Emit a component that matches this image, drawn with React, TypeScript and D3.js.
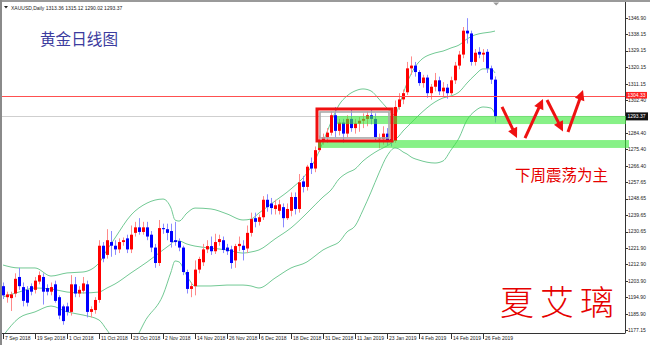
import React from 'react';
import * as d3 from 'd3';

// ---------- DATA ----------
const opens = [1201,1195,1194.5,1197,1206,1200.5,1199,1201,1199,1203.5,1206,1200,1198,1202,1195,1190,1190,1187,1202,1197,1198.5,1202,1187,1188,1193.5,1223,1218,1225,1223,1221,1225,1227,1221,1230,1233,1230.5,1233,1229,1222,1213.6,1232.6,1232,1231,1226,1225.5,1222,1208.7,1199.5,1201,1210,1214,1221,1222.8,1220,1225,1226,1222,1221,1215,1222.8,1223,1221.5,1230,1238,1236,1238.5,1248,1246,1243,1242,1244,1238,1242,1249.5,1243,1258,1255,1268,1265,1275,1280,1282,1284.5,1294,1285.5,1290,1284,1292,1287,1289.5,1291,1292,1294,1292,1281,1281,1284,1281,1280,1298.5,1302.6,1306.5,1319.5,1321,1317.5,1311.5,1314.5,1306,1309.5,1313,1307,1309,1306,1313,1321,1327,1340,1338.5,1323,1328.5,1327,1328.5,1319.5,1313.36];
const highs = [1203,1198,1198,1208,1211,1203,1201,1202.5,1206,1209,1208,1202,1203,1204,1196,1191,1192,1207,1206,1201,1206,1204,1190,1195,1226,1225,1232,1231,1226,1227,1227.5,1229,1234,1236,1238,1236,1236,1231,1224,1237,1235,1235,1235,1236,1227,1223,1210,1203,1215,1217,1224,1226,1228,1229.5,1229,1228,1224,1223,1224,1228,1226,1234,1241,1241,1240,1250,1251,1249,1248,1248,1246,1246,1252,1252,1262,1261,1267,1271,1277,1283,1284,1287,1296,1298.5,1292,1292,1294,1297,1292,1293,1295,1296,1297,1295,1284,1288,1287,1284.5,1302,1306,1308,1323,1326,1323,1318.5,1316,1316,1311,1317,1315,1312,1311,1315,1323,1329,1342,1346.8,1340,1330,1331,1330,1330,1321,1315.12];
const lows = [1194,1192,1187.5,1195,1199,1190,1190,1196,1197,1202,1191,1196,1196,1192,1183,1180,1185,1185,1195,1195,1197,1184,1184,1186,1192,1214,1216,1217,1218,1219,1223,1219,1219,1228,1229,1229,1226,1219.5,1211,1212,1229.5,1226,1222,1223,1220,1207,1197,1195,1196,1208,1212,1219,1218,1218.5,1223,1219,1218,1210.5,1211,1220,1215,1219,1228,1233,1234,1237,1241.5,1240,1240,1240,1233,1237,1239,1240,1241,1252,1253,1262,1263,1274,1278,1279,1283,1282,1283,1279,1282,1285,1284,1285,1287,1288,1289,1279.5,1276,1278,1277.5,1277,1279,1297,1300,1305,1316,1315,1310,1309,1303.5,1302.5,1307,1305,1304,1303,1305,1311,1319,1325,1333,1321,1321,1325,1323,1317,1311,1290.02];
const closes = [1196,1196.5,1196.5,1205,1201,1193,1192,1198,1204,1207,1198,1198,1200.5,1193,1185,1182,1187,1202,1197,1199,1202.5,1187,1188.5,1193.5,1223,1216,1226,1223,1221,1225,1226,1221,1229,1233,1230.5,1233,1228,1222,1213.6,1232.6,1232,1230,1225,1225,1222,1208.7,1199.5,1201,1210,1215.8,1221,1222.8,1220,1225,1226.6,1220.7,1220,1213.6,1222.8,1224,1220.7,1230,1237.5,1236,1238.5,1248,1244,1243.5,1245,1245.5,1238,1243,1249.5,1243,1257.5,1255,1266,1265,1275,1280,1282,1284.5,1294,1285.5,1290,1284,1292,1287,1289.5,1291,1292,1294,1292,1282,1281.5,1284,1280.5,1280,1298.5,1302.6,1306,1319.5,1321,1317.5,1311.5,1314.5,1306,1309.5,1313,1307,1309,1306,1313,1321,1327,1340,1338.5,1323,1328,1327,1328,1319.5,1313.4,1293.37];

// Bollinger bands, read at sampled bar indices
const bbIndex = [0,4,8,12,16,20,24,26,28,32,36,40,42,43,44,46,48,52,56,60,62,64,68,72,76,78,80,82,84,86,88,90,92,94,96,98,99,100,101,102,104,108,110,112,114,116,118,120,122,123];
const bbUpper = [1212.5,1210.9,1210.9,1206.5,1208.2,1208.7,1213.6,1220.7,1227.2,1239.7,1246.2,1248.4,1243.5,1237.0,1236.4,1240.8,1243.5,1243.0,1240.3,1237.0,1237.5,1240.8,1247.3,1253.9,1262.6,1269.6,1279.4,1290.3,1299.6,1304.5,1307.2,1308.3,1307.2,1302.8,1297.9,1294.1,1299.0,1305.5,1311.5,1316.4,1323.0,1327.9,1328.9,1330.6,1332.2,1335.5,1337.7,1338.7,1339.3,1339.8];
const bbMiddle = [1195.1,1197.8,1200.0,1199.5,1197.8,1197.3,1197.8,1200.0,1202.2,1208.2,1214.1,1220.7,1223.9,1225.6,1225.6,1223.9,1222.8,1221.7,1220.7,1219.0,1219.6,1220.7,1226.7,1232.7,1240.8,1245.2,1249.5,1253.3,1259.3,1262.6,1264.7,1269.1,1272.4,1275.1,1277.3,1280.5,1282.7,1285.4,1287.6,1289.8,1294.1,1301.2,1303.4,1304.5,1306.6,1311.5,1315.9,1319.2,1319.2,1317.0];
const bbLower = [1173.9,1183.7,1187.0,1190.2,1187.0,1185.3,1182.6,1177.1,1171.7,1170.6,1183.7,1196.2,1208.7,1214.7,1214.2,1206.5,1201.1,1201.1,1201.6,1201.6,1201.1,1200.0,1205.4,1210.9,1214.2,1217.4,1220.7,1222.8,1225.0,1230.5,1233.7,1242.4,1252.2,1262.6,1271.8,1276.2,1275.6,1274.0,1272.9,1271.3,1269.6,1268.0,1269.1,1275.1,1281.6,1291.4,1296.3,1298.5,1297.9,1294.7];

const xTickIndex = [0,8,16,24,32,40,48,56,64,72,80,88,96,104,112,120];
const xTickLabels = ['7 Sep 2018','19 Sep 2018','1 Oct 2018','11 Oct 2018','23 Oct 2018','2 Nov 2018','14 Nov 2018','26 Nov 2018','6 Dec 2018','18 Dec 2018','31 Dec 2018','11 Jan 2019','23 Jan 2019','4 Feb 2019','14 Feb 2019','26 Feb 2019'];
const yTickLabels = ['1346.90','1338.15','1329.15','1320.15','1311.15','1302.40','1284.40','1275.40','1266.40','1257.65','1248.65','1239.65','1230.65','1221.90','1212.90','1203.90','1194.90','1185.90','1177.15'];

const headerText = 'XAUUSD,Daily  1313.36 1315.12 1290.02 1293.37';
const redLevel = 1304.33;
const bidLevel = 1293.37;
const zoneStarts = [83.5, 78.75];
const zoneLows = [1289.2, 1276.2];
const zoneHighs = [1293.6, 1280.5];
const boxIndex = [78.5, 97.25];
const boxPrice = [1280, 1297.4];
const arrowFromIdx = [124.75, 130.5, 136, 141.25];
const arrowFromPrice = [1298.5, 1281.6, 1302.3, 1284.9];
const arrowToIdx = [128.5, 135, 140, 145];
const arrowToPrice = [1281.6, 1302.8, 1285.2, 1307.7];

const titleText = '黄金日线图';
const noteText = '下周震荡为主';
const signText = '夏艾璃';

// ---------- LAYOUT ----------
const W = 650, H = 345;
const plotLeft = 2, plotRight = 625.5, plotTop = 2, plotBottom = 333;

export default function App() {
  const xs = d3.scaleLinear().domain([0, 123]).range([3, 495]);
  const ys = d3.scaleLinear().domain([1177.15, 1346.9]).range([330, 18]);

  const bandLine = (vals: number[]) =>
    d3.line<number>()
      .x((_, k) => xs(bbIndex[k]))
      .y((d) => ys(d))
      .curve(d3.curveMonotoneX)(vals) || '';

  const axisFont = '"Liberation Sans", Arial, sans-serif';

  const arrowPaths = arrowFromIdx.map((_, k) => {
    const x1 = xs(arrowFromIdx[k]), y1 = ys(arrowFromPrice[k]);
    const x2 = xs(arrowToIdx[k]), y2 = ys(arrowToPrice[k]);
    const ang = Math.atan2(y2 - y1, x2 - x1);
    const hl = 10, hw = 5;
    const bx = x2 - hl * Math.cos(ang), by = y2 - hl * Math.sin(ang);
    const px = -Math.sin(ang), py = Math.cos(ang);
    return {
      line: `M${x1},${y1}L${bx + Math.cos(ang)},${by + Math.sin(ang)}`,
      head: `M${x2},${y2}L${bx + hw * px},${by + hw * py}L${bx - hw * px},${by - hw * py}Z`,
    };
  });

  return (
    <svg width={W} height={H} style={{ position: 'absolute', left: 0, top: 0, background: '#fff' }}>
      <defs>
        <clipPath id="plotClip">
          <rect x={plotLeft} y={plotTop} width={plotRight - plotLeft} height={plotBottom - plotTop} />
        </clipPath>
      </defs>
      <rect x={0} y={0} width={W} height={H} fill="#fff" />
      {/* outer window border */}
      <line x1={0} x2={W} y1={1} y2={1} stroke="#9a9a9a" strokeWidth={2} />
      <line x1={1} x2={1} y1={0} y2={H} stroke="#8a8a8a" strokeWidth={2} />
      {/* chart frame */}
      <line x1={plotRight} x2={plotRight} y1={plotTop} y2={plotBottom} stroke="#333" strokeWidth={1} />
      <line x1={plotLeft} x2={plotRight} y1={plotBottom + 0.5} y2={plotBottom + 0.5} stroke="#333" strokeWidth={1} />
      <path d={`M${xs(123.3) - 3},2.5L${xs(123.3) + 3},2.5L${xs(123.3)},5.5Z`} fill="#999" />

      <g clipPath="url(#plotClip)">
        {/* bid line */}
        <line x1={plotLeft} x2={plotRight} y1={Math.round(ys(bidLevel)) + 0.5} y2={Math.round(ys(bidLevel)) + 0.5} stroke="#cfcfcf" strokeWidth={1} />
        {/* bollinger bands */}
        {[bbUpper, bbMiddle, bbLower].map((b, k) => (
          <path key={k} d={bandLine(b)} fill="none" stroke="#72c994" strokeWidth={1} />
        ))}
        {/* candles */}
        {closes.map((c, i) => {
          const o = opens[i];
          const up = c >= o;
          const x = Math.round(xs(i));
          const top = ys(Math.max(o, c));
          const bot = ys(Math.min(o, c));
          return (
            <g key={i}>
              <line x1={x + 0.5} x2={x + 0.5} y1={ys(highs[i])} y2={ys(lows[i])} stroke={up ? '#ff8a8a' : '#8a8aff'} strokeWidth={1} />
              <rect x={x - 1} y={top} width={3} height={Math.max(1, bot - top)} fill={up ? '#ff0000' : '#0000ff'} />
            </g>
          );
        })}
        {/* red level line */}
        <line x1={plotLeft} x2={plotRight} y1={Math.round(ys(redLevel)) + 0.5} y2={Math.round(ys(redLevel)) + 0.5} stroke="#ff5050" strokeWidth={1} />
      </g>

      {/* green zones */}
      {zoneStarts.map((s, k) => (
        <rect key={k} x={xs(s)} y={ys(zoneHighs[k])} width={plotRight + (k === 1 ? 3.5 : 0.5) - xs(s)}
          height={ys(zoneLows[k]) - ys(zoneHighs[k])} fill="#3ee83e" opacity={0.62} />
      ))}

      {/* gray inner rect and red box */}
      <rect x={xs(boxIndex[0]) + 3} y={ys(boxPrice[1]) + 3} width={xs(boxIndex[1]) - xs(boxIndex[0]) - 6}
        height={ys(boxPrice[0]) - ys(boxPrice[1]) - 6} fill="none" stroke="#a8a8a8" strokeWidth={1.6} />
      <rect x={xs(boxIndex[0])} y={ys(boxPrice[1])} width={xs(boxIndex[1]) - xs(boxIndex[0])}
        height={ys(boxPrice[0]) - ys(boxPrice[1])} fill="none" stroke="#f01010" strokeWidth={3} />

      {/* arrows */}
      {arrowPaths.map((a, k) => (
        <g key={k}>
          <path d={a.line} stroke="#ee1111" strokeWidth={3} fill="none" />
          <path d={a.head} fill="#ee1111" />
        </g>
      ))}

      {/* header */}
      <path d="M4,6L8,6L6,8.5Z" fill="#222" />
      <text x={11} y={9.5} fontSize={5} fontFamily={axisFont} fill="#222">{headerText}</text>

      {/* y axis */}
      {yTickLabels.map((t) => {
        const y = ys(+t);
        return (
          <g key={t}>
            <line x1={plotRight} x2={plotRight + 2.5} y1={Math.round(y) + 0.5} y2={Math.round(y) + 0.5} stroke="#333" />
            <text x={628} y={y + 1.8} fontSize={5} fontFamily={axisFont} fill="#222">{t}</text>
          </g>
        );
      })}
      {/* price markers */}
      <rect x={626} y={ys(redLevel) - 4.3} width={21} height={6.6} fill="#ff2020" />
      <text x={627.5} y={ys(redLevel) + 0.9} fontSize={5} fontFamily={axisFont} fill="#fff">{redLevel.toFixed(2)}</text>
      <rect x={626} y={ys(bidLevel) - 4} width={22} height={8} fill="#111" />
      <text x={627.5} y={ys(bidLevel) + 1.8} fontSize={5} fontFamily={axisFont} fill="#fff">{bidLevel.toFixed(2)}</text>

      {/* x axis */}
      {xTickIndex.map((idx, k) => {
        const x = Math.round(xs(idx));
        return (
          <g key={idx}>
            <line x1={x + 0.5} x2={x + 0.5} y1={plotBottom} y2={plotBottom + 6} stroke="#333" />
            <text x={x + 2} y={339.5} fontSize={5} fontFamily={axisFont} fill="#222">{xTickLabels[k]}</text>
          </g>
        );
      })}

      {/* annotations */}
      <text x={40} y={38} fontSize={15.6} fontFamily='"Noto Sans CJK SC", sans-serif' fill="#3c3c9e" dominantBaseline="central">{titleText}</text>
      <text x={515} y={174} fontSize={15.5} fontFamily='"Noto Sans CJK SC", sans-serif' fill="#e60000" dominantBaseline="central">{noteText}</text>
      <text x={500} y={300} fontSize={34} letterSpacing={6} fontFamily='"Noto Sans CJK SC", sans-serif' fontWeight={300} fill="#e60000" dominantBaseline="central">{signText}</text>
    </svg>
  );
}
